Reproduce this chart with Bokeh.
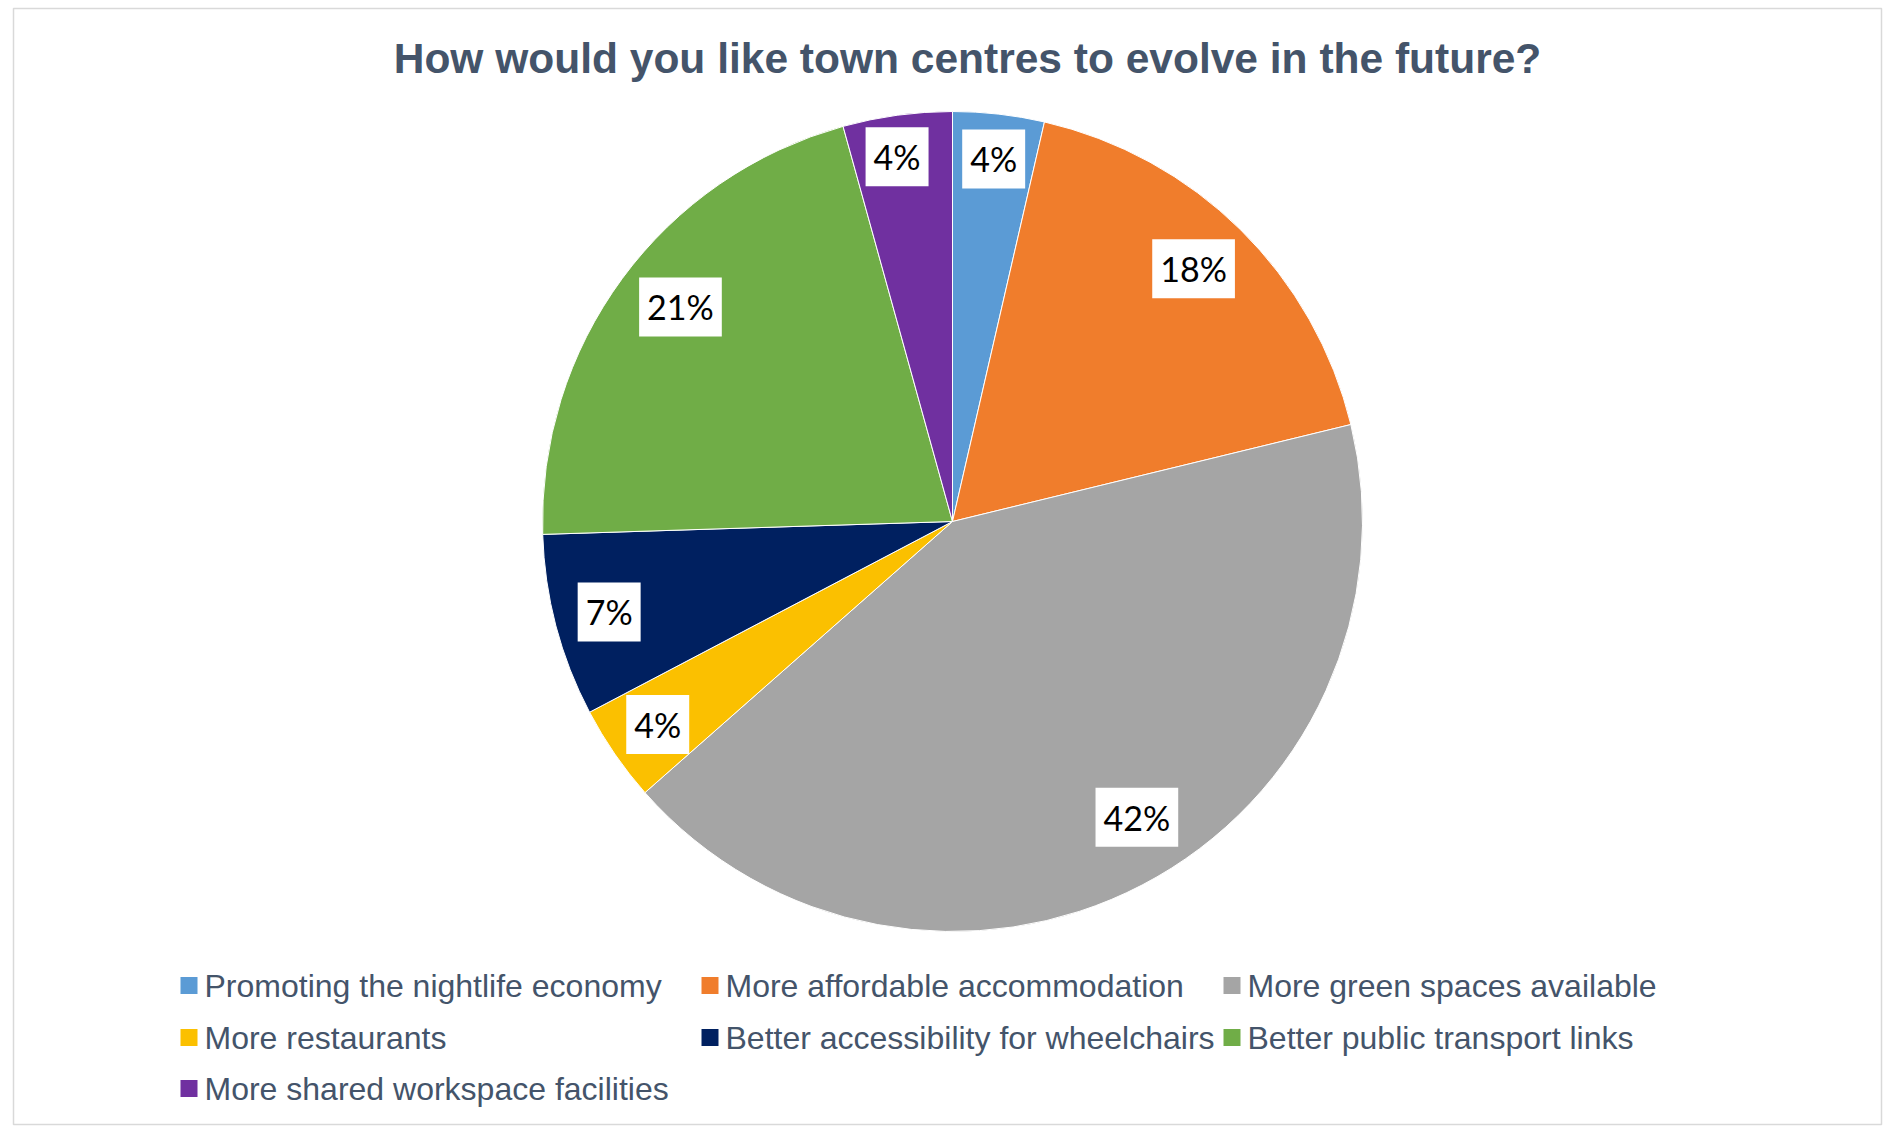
import math
from bokeh.plotting import figure
from bokeh.models import Range1d, ColumnDataSource
from bokeh.core.properties import value
from bokeh.embed import file_html
from bokeh.resources import INLINE

# ---- data ----
title_text = "How would you like town centres to evolve in the future?"
categories = [
    "Promoting the nightlife economy",
    "More affordable accommodation",
    "More green spaces available",
    "More restaurants",
    "Better accessibility for wheelchairs",
    "Better public transport links",
    "More shared workspace facilities",
]
shares = [3.6, 17.6, 42.3, 3.8, 7.2, 21.2, 4.3]
colors = ["#5B9BD5", "#F07D2C", "#A5A5A5", "#FBC000", "#002060", "#70AD47", "#7030A0"]

# ---- layout ----
W, H = 1887, 1129
cx, cy_px, r = 952, 521, 410
cy = H - cy_px
# per-label placement (fraction of radius, angular nudge in degrees)
label_rfrac = [0.89, 0.852, 0.85, 0.873, 0.866, 0.845, 0.90]
label_nudge = [0.0, 1.0, 4.4, 0.0, 0.0, -1.9, 0.9]

p = figure(width=W, height=H, x_range=Range1d(0, W), y_range=Range1d(0, H),
           output_backend="svg", toolbar_location=None, min_border=0,
           x_axis_location=None, y_axis_location=None, outline_line_color=None,
           background_fill_color="white", border_fill_color="white")
p.grid.visible = False

# chart frame
p.quad(left=[13], right=[1881], bottom=[H - 1124], top=[H - 8],
       fill_color=None, line_color="#D9D9D9", line_width=1.5)

# pie wedges
total = sum(shares)
cum = 0.0
starts, ends, lx, ly, ltxt = [], [], [], [], []
for i, v in enumerate(shares):
    a0 = math.pi / 2 - 2 * math.pi * cum / total
    a1 = math.pi / 2 - 2 * math.pi * (cum + v) / total
    starts.append(a0)
    ends.append(a1)
    mid = (a0 + a1) / 2 + math.radians(label_nudge[i])
    lr = label_rfrac[i] * r
    lx.append(cx + lr * math.cos(mid))
    ly.append(cy + lr * math.sin(mid))
    ltxt.append(f"{round(v)}%")
    cum += v

src = ColumnDataSource(dict(start=starts, end=ends, color=colors))
p.wedge(x=cx, y=cy, radius=r, start_angle="start", end_angle="end",
        direction="clock", fill_color="color", line_color="white",
        line_width=1, source=src)

# data labels
p.text(x=lx, y=ly, text=ltxt, text_align="center", text_baseline="middle",
       text_font=value("Lato"), text_font_size="34px", text_color="black",
       background_fill_color="white", padding=(8, 9))

# title
p.text(x=[967], y=[H - 58], text=[title_text], text_align="center",
       text_baseline="middle", text_font=value("Liberation Sans"),
       text_font_style="bold", text_font_size="42.5px", text_color="#44546A")

# legend
col_x = [180, 701, 1223]
row_y = [985, 1037, 1088]
mx, my, tx = [], [], []
for i in range(len(categories)):
    c, rw = i % 3, i // 3
    mx.append(col_x[c] + 8.5)
    my.append(H - row_y[rw])
    tx.append(col_x[c] + 24)
p.rect(x=mx, y=my, width=17, height=17, fill_color=colors, line_color=None)
p.text(x=tx, y=my, text=categories, text_align="left", text_baseline="middle",
       text_font=value("Liberation Sans"), text_font_size="32px",
       text_color="#44546A")

open("out.html", "w").write(file_html(p, INLINE))
